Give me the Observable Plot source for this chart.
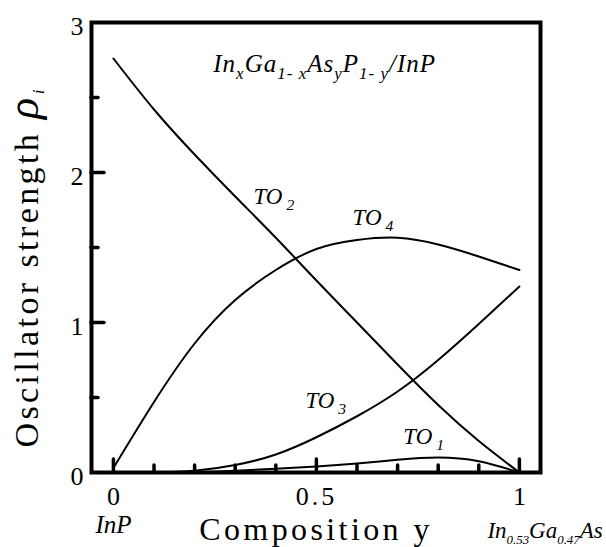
<!DOCTYPE html>
<html>
<head>
<meta charset="utf-8">
<script src="https://cdn.jsdelivr.net/npm/d3@7"></script>
<script src="https://cdn.jsdelivr.net/npm/@observablehq/plot@0.6"></script>
<style>
  html, body { margin: 0; padding: 0; background: #fff; }
  #chart svg { display: block; }
  #chart text { white-space: pre; }
</style>
</head>
<body>
<div id="chart"></div>
<script>
// Composition y of InxGa1-xAsyP1-y lattice-matched to InP
const composition = [0, 0.1, 0.2, 0.3, 0.4, 0.5, 0.6, 0.7, 0.8, 0.9, 1.0];

// Oscillator strength of each TO mode (null where the mode is absent)
const to1 = [null, null, 0.0, 0.012, 0.025, 0.04, 0.06, 0.085, 0.10, 0.075, 0.0];
const to2 = [2.76, 2.42, 2.12, 1.84, 1.565, 1.28, 1.0, 0.72, 0.45, 0.21, 0.0];
const to3 = [null, 0.0, 0.012, 0.05, 0.12, 0.235, 0.375, 0.54, 0.75, 0.99, 1.24];
const to4 = [0.03, 0.47, 0.86, 1.15, 1.35, 1.49, 1.55, 1.565, 1.52, 1.44, 1.35];

const seriesNames = ["TO1", "TO2", "TO3", "TO4"];
const seriesValues = [to1, to2, to3, to4];

// Axis ticks
const xMajorTicks = [0, 0.5, 1];
const xMinorTicks = [0.1, 0.2, 0.3, 0.4, 0.6, 0.7, 0.8, 0.9];
const yMajorTicks = [1, 2];
const yMinorTicks = [0.5, 1.5, 2.5];
const yTickLabels = [0, 1, 2, 3];

// Text (markup: _{...} subscript, ~{...} enlarged italic symbol)
const titleText = "In_{x}Ga_{1- x}As_{y}P_{1- y}/InP";
const xTitle = "Composition y";
const yTitle = "Oscillator strength ~{ρ}_{i}";
const leftEndLabel = "InP";
const rightEndLabel = "In_{0.53}Ga_{0.47}As";
const curveLabels = [
  {text: "TO_{ 1}", c: 0.714, v: 0.19},
  {text: "TO_{ 2}", c: 0.345, v: 1.79},
  {text: "TO_{ 3}", c: 0.473, v: 0.43},
  {text: "TO_{ 4}", c: 0.589, v: 1.65}
];

const rows = seriesNames.flatMap((name, k) =>
  composition.map((c, i) => ({series: name, c, v: seriesValues[k][i]})).filter(d => d.v != null)
);

// Layout
const W = 606, H = 547;
const mTop = 22, mRight = 66, mBottom = 75, mLeft = 91;
const xDomain = [-0.054, 1.052];
const yDomain = [0, 3];
const pxPerX = (W - mLeft - mRight) / (xDomain[1] - xDomain[0]);
const pxPerY = (H - mTop - mBottom) / (yDomain[1] - yDomain[0]);
const majorLen = 13, minorLen = 7;

const serif = "Liberation Serif, Times New Roman, serif";

// extra tracking for the wide-set lettering
const tracking = new Map([[xTitle, "3.4px"], [yTitle, "3.4px"], [titleText, "1px"], ["0.5", "3px"]]);

const svg = Plot.plot({
  width: W,
  height: H,
  marginTop: mTop,
  marginRight: mRight,
  marginBottom: mBottom,
  marginLeft: mLeft,
  style: {fontFamily: serif, background: "#fff", color: "#000", overflow: "visible"},
  x: {domain: xDomain},
  y: {domain: yDomain},
  marks: [
    // inward tick marks along the bottom edge
    Plot.ruleX(xMajorTicks, {x: d => d, y1: 0, y2: majorLen / pxPerY, stroke: "#000", strokeWidth: 3.5, strokeLinecap: "round"}),
    Plot.ruleX(xMinorTicks, {x: d => d, y1: 0, y2: minorLen / pxPerY, stroke: "#000", strokeWidth: 3.5, strokeLinecap: "round"}),
    // inward tick marks along the left edge
    Plot.ruleY(yMajorTicks, {y: d => d, x1: xDomain[0], x2: xDomain[0] + majorLen / pxPerX, stroke: "#000", strokeWidth: 3.5, strokeLinecap: "round"}),
    Plot.ruleY(yMinorTicks, {y: d => d, x1: xDomain[0], x2: xDomain[0] + minorLen / pxPerX, stroke: "#000", strokeWidth: 3.5, strokeLinecap: "round"}),
    // oscillator strength curves
    Plot.line(rows, {x: "c", y: "v", z: "series", curve: "natural", stroke: "#000", strokeWidth: 2}),
    // tick labels
    Plot.axisX({ticks: xMajorTicks, tickSize: 0, tickPadding: 14, fontSize: 26, fontFamily: serif, tickFormat: d => String(d), label: null}),
    Plot.axisY({ticks: yTickLabels, tickSize: 0, tickPadding: 8, dy: 4, fontSize: 26, fontFamily: serif, tickFormat: d => String(d), label: null}),
    // axis titles
    Plot.text([xTitle], {text: d => d, frameAnchor: "bottom", lineAnchor: "bottom", dy: 67, fontSize: 32, fontFamily: serif}),
    Plot.text([yTitle], {text: d => d, frameAnchor: "left", rotate: -90, textAnchor: "start", lineAnchor: "bottom", dx: -54, dy: 200, fontSize: 34, fontFamily: serif}),
    // end-member labels under the axis
    Plot.text([leftEndLabel], {text: d => d, x: 0, frameAnchor: "bottom", lineAnchor: "bottom", dy: 60, fontSize: 25, fontFamily: serif, fontStyle: "italic"}),
    Plot.text([rightEndLabel], {text: d => d, x: 1, frameAnchor: "bottom", textAnchor: "start", lineAnchor: "bottom", dx: -32, dy: 65, fontSize: 23, fontFamily: serif, fontStyle: "italic"}),
    // material system title
    Plot.text([titleText], {text: d => d, x: 0.246, y: 2.673, textAnchor: "start", lineAnchor: "bottom", fontSize: 25, fontFamily: serif, fontStyle: "italic"}),
    // mode labels
    Plot.text(curveLabels, {text: "text", x: "c", y: "v", textAnchor: "start", lineAnchor: "bottom", fontSize: 23, fontFamily: serif, fontStyle: "italic"}),
    // frame
    Plot.frame({stroke: "#000", strokeWidth: 4})
  ]
});

document.getElementById("chart").appendChild(svg);

// Tracking, subscripts and the enlarged rho
const SVGNS = "http://www.w3.org/2000/svg";
d3.select(svg).selectAll("text").each(function () {
  const src = this.textContent;
  if (tracking.has(src)) this.style.letterSpacing = tracking.get(src);
  if (!/[_~]\{/.test(src)) return;
  const fs = parseFloat(getComputedStyle(this).fontSize);
  const isEndLabel = src === rightEndLabel;
  const parts = src.split(/([_~]\{[^}]*\})/).filter(p => p !== "");
  this.textContent = "";
  let shift = 0, prevBig = false;
  for (const p of parts) {
    const t = document.createElementNS(SVGNS, "tspan");
    let target = 0, str = p;
    if (p.startsWith("_{")) {
      str = p.slice(2, -1);
      const size = prevBig ? fs * 0.5 : isEndLabel ? fs * 0.56 : fs * 0.68;
      t.setAttribute("font-size", size);
      if (prevBig) t.setAttribute("font-style", "italic");
      target = prevBig ? fs * 0.2 : fs * 0.28;
      prevBig = false;
    } else if (p.startsWith("~{")) {
      str = p.slice(2, -1);
      t.setAttribute("font-size", fs * 1.3);
      t.setAttribute("font-style", "italic");
      prevBig = true;
    } else {
      prevBig = false;
    }
    if (target !== shift) t.setAttribute("dy", target - shift);
    shift = target;
    t.textContent = str;
    this.appendChild(t);
  }
});
</script>
</body>
</html>
